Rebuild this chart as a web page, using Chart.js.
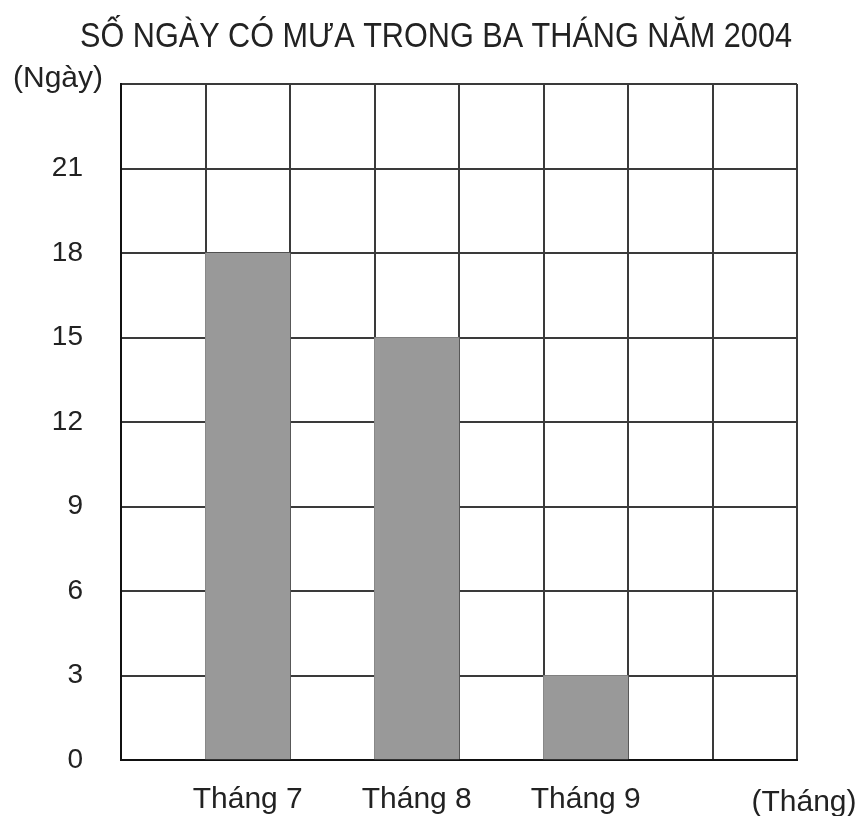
<!DOCTYPE html>
<html>
<head>
<meta charset="utf-8">
<script src="https://cdn.jsdelivr.net/npm/chart.js@4.4.1/dist/chart.umd.min.js"></script>
<style>
  html, body { margin: 0; padding: 0; background: #ffffff; }
  #wrap { width: 862px; height: 816px; position: relative; }
</style>
</head>
<body>
<div id="wrap"><canvas id="c" width="862" height="816"></canvas></div>
<script>
const titleText = 'SỐ NGÀY CÓ MƯA TRONG BA THÁNG NĂM 2004';
const yUnitLabel = '(Ngày)';
const xUnitLabel = '(Tháng)';
const categories = ['', 'Tháng 7', '', 'Tháng 8', '', 'Tháng 9', '', ''];
const rainyDays = [null, 18, null, 15, null, 3, null, null];
const yTickValues = [0, 3, 6, 9, 12, 15, 18, 21];
const yMax = 24;
const yStep = 3;

const FONT = "'Liberation Sans', Arial, sans-serif";

const textLabels = {
  id: 'textLabels',
  afterDraw(chart) {
    const ctx = chart.ctx;
    const area = chart.chartArea;
    ctx.save();
    ctx.fillStyle = '#222';
    ctx.textAlign = 'center';
    ctx.textBaseline = 'alphabetic';
    // title, slightly condensed like the original narrow face
    ctx.save();
    ctx.font = '35px ' + FONT;
    ctx.translate(436, 47);
    ctx.scale(0.875, 1);
    ctx.fillText(titleText, 0, 0);
    ctx.restore();
    ctx.font = '30px ' + FONT;
    ctx.fillText(yUnitLabel, 58, area.top + 3);
    ctx.fillText(xUnitLabel, area.right + 7, 811);
    ctx.restore();
  }
};

new Chart(document.getElementById('c'), {
  type: 'bar',
  data: {
    labels: categories,
    datasets: [{
      data: rainyDays,
      backgroundColor: '#999999',
      borderWidth: 0,
      categoryPercentage: 1.0,
      barPercentage: 1.0
    }]
  },
  options: {
    responsive: false,
    animation: false,
    devicePixelRatio: 1,
    layout: { padding: { left: 0, right: 65, top: 84, bottom: 0 } },
    plugins: {
      legend: { display: false },
      tooltip: { enabled: false },
      title: { display: false }
    },
    scales: {
      x: {
        grid: { display: true, offset: true, color: '#3a3a3a', lineWidth: 2, drawTicks: false },
        border: { display: true, color: '#111', width: 2 },
        ticks: {
          color: '#222',
          font: { family: FONT, size: 30 },
          padding: 22,
          autoSkip: false,
          maxRotation: 0
        },
        afterFit(scale) { scale.height = 56; }
      },
      y: {
        min: 0,
        max: yMax,
        grid: { color: '#3a3a3a', lineWidth: 2, drawTicks: false },
        border: { display: true, color: '#111', width: 2 },
        ticks: {
          stepSize: yStep,
          color: '#222',
          font: { family: FONT, size: 28 },
          padding: 38,
          callback: (v) => yTickValues.includes(v) ? String(v) : ''
        },
        afterFit(scale) { scale.width = 121; }
      }
    }
  },
  plugins: [textLabels]
});
</script>
</body>
</html>
